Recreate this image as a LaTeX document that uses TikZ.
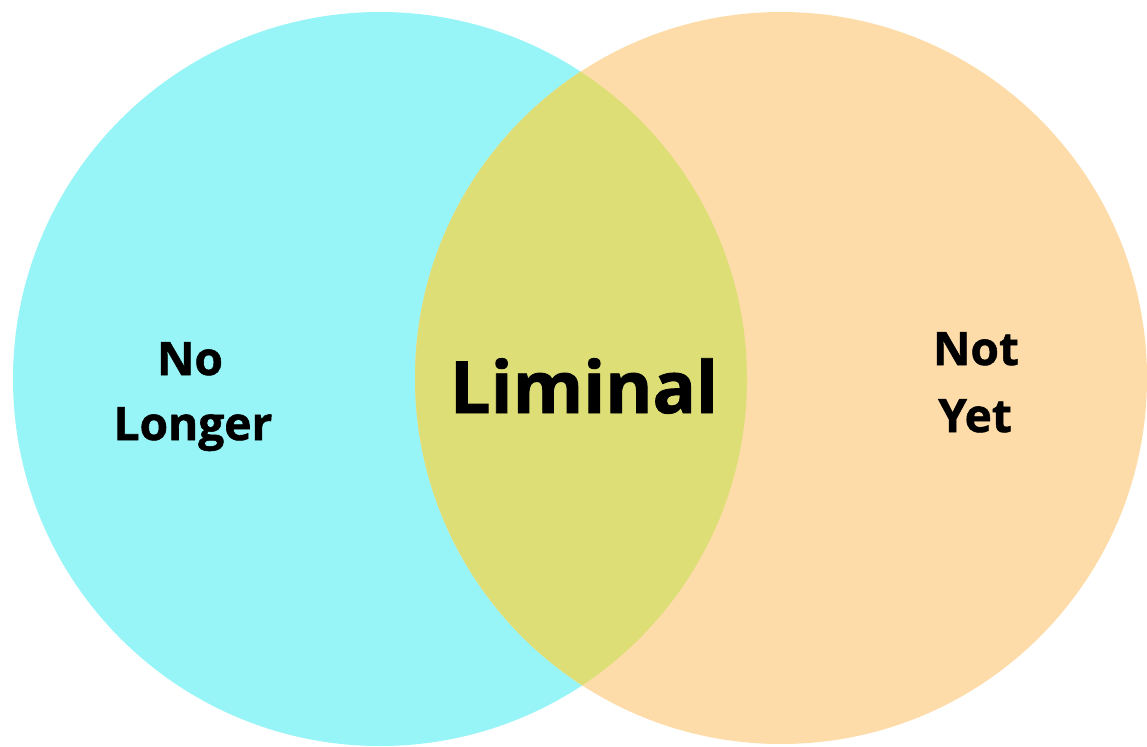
\documentclass[tikz,border=0pt]{standalone}
\usepackage{fontspec}
\setmainfont{Open Sans}[BoldFeatures={FakeBold=1.2}]
\definecolor{cyanfill}{HTML}{98F5F7}
\definecolor{orangefill}{HTML}{FDDCA9}
\definecolor{overlapfill}{HTML}{DEDE76}
\tikzset{
  lbl/.style={font=\bfseries\fontsize{46}{65}\selectfont, align=center, text=black, inner sep=0pt},
  big/.style={font=\bfseries\fontsize{72}{80}\selectfont, text=black, inner sep=0pt, anchor=base},
}
\begin{document}
\begin{tikzpicture}[x=1pt,y=-1pt]
\useasboundingbox (0,0) rectangle (1147,746);
\fill[white] (0,0) rectangle (1147,746);
\fill[cyanfill] (380,379) circle[radius=367];
\fill[orangefill] (781,378) circle[radius=366];
\begin{scope}
  \clip (380,379) circle[radius=367];
  \fill[overlapfill] (781,378) circle[radius=366];
\end{scope}
\node[big] (lim) at (584,413) {Liminal};
\node[lbl, anchor=base] (no) at (190,375) {No};
\node[lbl, anchor=base] (longer) at (193,440) {Longer};
\node[lbl, anchor=base] (not) at (976,365) {Not};
\node[lbl, anchor=base] (yet) at (975,432) {Yet};
\end{tikzpicture}
\end{document}
